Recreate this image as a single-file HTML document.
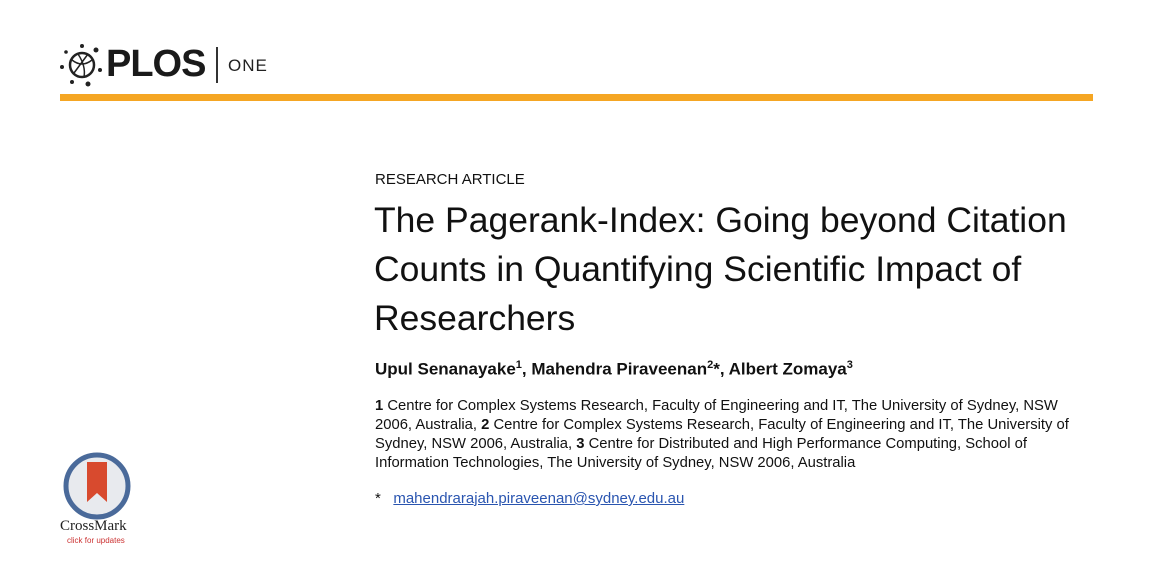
<!DOCTYPE html>
<html><head><meta charset="utf-8"><style>
body{margin:0;width:1150px;height:562px;background:#fff;position:relative;overflow:hidden;font-family:"Liberation Sans",sans-serif;color:#111}
.a{position:absolute;white-space:nowrap}
</style></head><body>
<div class="a" style="left:58px;top:40px;width:220px;height:48px">
<svg width="60" height="48" style="position:absolute;left:0;top:0">
<circle cx="24" cy="25" r="12" fill="none" stroke="#222" stroke-width="2.5"/>
<path d="M14 20 Q24 28 34 20 M16 33 L30 14 M20 14 Q28 26 26 37" fill="none" stroke="#222" stroke-width="1.5"/>
<circle cx="24" cy="6" r="2" fill="#222"/><circle cx="38" cy="10" r="2.5" fill="#222"/><circle cx="8" cy="12" r="1.8" fill="#222"/><circle cx="4" cy="27" r="2" fill="#222"/><circle cx="42" cy="30" r="2" fill="#222"/><circle cx="14" cy="42" r="2" fill="#222"/><circle cx="30" cy="44" r="2.5" fill="#222"/>
</svg>
<div class="a" style="left:48px;top:3px;font-size:38px;font-weight:bold;letter-spacing:-1px;color:#1a1a1a">PLOS</div>
<div class="a" style="left:158px;top:7px;width:2px;height:36px;background:#333"></div>
<div class="a" style="left:170px;top:16px;font-size:17px;color:#222;letter-spacing:1px">ONE</div>
</div>
<div class="a" style="left:60px;top:94px;width:1033px;height:7px;background:#f5a623"></div>
<div class="a" style="left:375px;top:171px;font-size:15px">RESEARCH ARTICLE</div>
<div class="a" style="left:374px;top:196px;font-size:35.5px;line-height:49px;color:#111;white-space:normal;width:740px">The Pagerank-Index: Going beyond Citation Counts in Quantifying Scientific Impact of Researchers</div>
<div class="a" style="left:375px;top:359px;font-size:17px;font-weight:bold">Upul Senanayake<sup style="font-size:11px">1</sup>, Mahendra Piraveenan<sup style="font-size:11px">2</sup>*, Albert Zomaya<sup style="font-size:11px">3</sup></div>
<div class="a" style="left:375px;top:397px;font-size:14.8px;line-height:19px;white-space:normal;width:705px"><b>1</b> Centre for Complex Systems Research, Faculty of Engineering and IT, The University of Sydney, NSW 2006, Australia, <b>2</b> Centre for Complex Systems Research, Faculty of Engineering and IT, The University of Sydney, NSW 2006, Australia, <b>3</b> Centre for Distributed and High Performance Computing, School of Information Technologies, The University of Sydney, NSW 2006, Australia</div>
<div class="a" style="left:375px;top:490px;font-size:15px">*&nbsp;&nbsp;&nbsp;<span style="color:#2a55b0;text-decoration:underline">mahendrarajah.piraveenan@sydney.edu.au</span></div>
<div class="a" style="left:56px;top:452px;width:82px;height:96px">
<svg width="82" height="70" style="position:absolute;left:0;top:0">
<circle cx="41" cy="34" r="31" fill="#e8eaee" stroke="#4a6a9a" stroke-width="5"/>
<path d="M31 10 L51 10 L51 50 L41 41 L31 50 Z" fill="#d84a2e"/>
</svg>
<div class="a" style="left:4px;top:66px;font-family:'Liberation Serif',serif;font-size:15px;color:#222">CrossMark</div>
<div class="a" style="left:11px;top:84px;font-size:8px;color:#c33">click for updates</div>
</div>
</body></html>
